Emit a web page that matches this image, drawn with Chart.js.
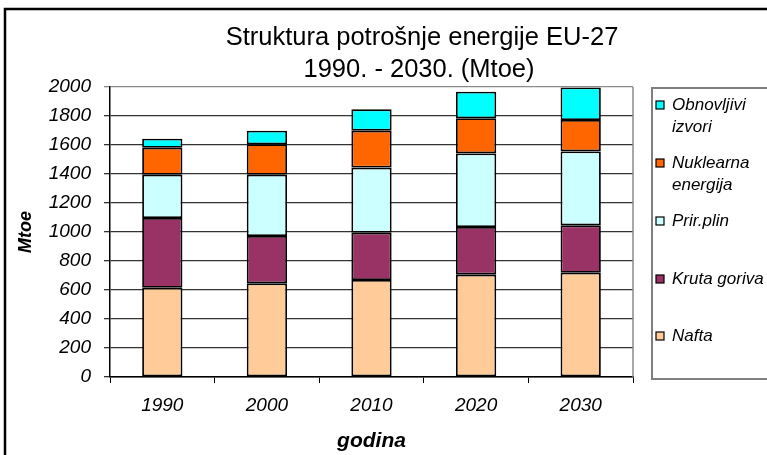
<!DOCTYPE html>
<html>
<head>
<meta charset="utf-8">
<script src="https://cdn.jsdelivr.net/npm/chart.js@4/dist/chart.umd.min.js"></script>
<style>
  html, body { margin: 0; padding: 0; background: #fff; }
  #wrap { width: 767px; height: 455px; }
</style>
</head>
<body>
<div id="wrap"><canvas id="c" width="767" height="455"></canvas></div>
<script>
// ---- data ----
const categories = ['1990', '2000', '2010', '2020', '2030'];
const nafta       = [616, 646, 669, 706, 719];
const krutaGoriva = [481, 326, 326, 328, 327];
const prirPlin    = [298, 423, 449, 508, 510];
const nuklearna   = [186, 210, 255, 242, 216];
const obnovljivi  = [62, 94, 147, 184, 225];
const yTicks      = [0, 200, 400, 600, 800, 1000, 1200, 1400, 1600, 1800, 2000];
const titleLines  = ['Struktura potrošnje energije EU-27', '1990. - 2030. (Mtoe)'];
const legendLines = [['Nafta'], ['Kruta goriva'], ['Prir.plin'], ['Nuklearna', 'energija'], ['Obnovljivi', 'izvori']];
const colors      = ['#FFCC99', '#993366', '#CCFFFF', '#FF6600', '#00FFFF'];
const seriesValues = [nafta, krutaGoriva, prirPlin, nuklearna, obnovljivi];

const FONT = 'Arial, "Liberation Sans", sans-serif';

const datasets = seriesValues.map((vals, i) => ({
  label: legendLines[i].join(' '),
  data: vals,
  backgroundColor: colors[i],
  borderColor: '#000',
  borderWidth: 1.8,
  borderSkipped: false,
  categoryPercentage: 1,
  barPercentage: 0.385
}));

const decor = {
  id: 'decor',
  beforeDraw(chart) {
    const ctx = chart.ctx;
    ctx.save();
    ctx.fillStyle = '#fff';
    ctx.fillRect(0, 0, chart.width, chart.height);
    ctx.restore();
  },
  afterDraw(chart) {
    const ctx = chart.ctx;
    const a = chart.chartArea;
    ctx.save();
    // plot area right border
    ctx.strokeStyle = '#8a8a8a';
    ctx.lineWidth = 1.5;
    ctx.beginPath();
    ctx.moveTo(a.right, a.top);
    ctx.lineTo(a.right, a.bottom);
    ctx.stroke();
    // outer frame
    ctx.strokeStyle = '#000';
    ctx.lineWidth = 2.5;
    ctx.strokeRect(5, 9, 900, 600);
    // title
    ctx.fillStyle = '#000';
    ctx.font = '25.5px ' + FONT;
    ctx.textAlign = 'center';
    ctx.textBaseline = 'middle';
    ctx.fillText(titleLines[0], 422, 38);
    ctx.fillText(titleLines[1], 419, 70);
    // legend box
    ctx.strokeStyle = '#7f7f7f';
    ctx.lineWidth = 2;
    ctx.strokeRect(652, 88, 130, 291);
    const ys = [336, 279, 221, 163, 105];
    ctx.font = 'italic 17px ' + FONT;
    ctx.textAlign = 'left';
    for (let i = chart.data.datasets.length - 1; i >= 0; i--) {
      const ds = chart.data.datasets[i];
      const y = ys[i];
      ctx.fillStyle = ds.backgroundColor;
      ctx.fillRect(656, y - 4, 8, 8);
      ctx.strokeStyle = '#000';
      ctx.lineWidth = 1.2;
      ctx.strokeRect(656, y - 4, 8, 8);
      ctx.fillStyle = '#000';
      legendLines[i].forEach((t, k) => ctx.fillText(t, 672, y + k * 22));
    }
    ctx.restore();
  }
};

new Chart(document.getElementById('c'), {
  type: 'bar',
  data: { labels: categories, datasets },
  options: {
    responsive: false,
    animation: false,
    devicePixelRatio: 1,
    layout: { padding: { top: 87, right: 134, left: 0, bottom: 0 } },
    plugins: { legend: { display: false }, title: { display: false }, tooltip: { enabled: false } },
    scales: {
      x: {
        stacked: true,
        afterFit(s) { s.height = 78; },
        grid: { display: true, drawOnChartArea: false, drawTicks: true, tickLength: 6, color: '#000', offset: true },
        border: { display: true, color: '#000', width: 1.5 },
        ticks: { color: '#000', padding: 11, font: { family: FONT, size: 19, style: 'italic' } },
        title: { display: true, text: 'godina', color: '#000', padding: { top: 0, bottom: 1 },
                 font: { family: FONT, size: 21, style: 'italic', weight: 'bold' } }
      },
      y: {
        stacked: true,
        min: 0, max: 2000,
        afterFit(s) { s.width = 110; },
        afterBuildTicks(s) { s.ticks = yTicks.map(v => ({ value: v })); },
        grid: {
          drawTicks: true, tickLength: 6,
          color: (c) => (c.tick && c.tick.value === 2000) ? '#8a8a8a' : '#333',
          lineWidth: 1.3
        },
        border: { display: true, color: '#000', width: 1.5 },
        ticks: { color: '#000', padding: 13, font: { family: FONT, size: 19, style: 'italic' },
                 callback: (v) => String(v) },
        title: { display: true, text: 'Mtoe', color: '#000', padding: { top: 15, bottom: 0 },
                 font: { family: FONT, size: 18, style: 'italic', weight: 'bold' } }
      }
    }
  },
  plugins: [decor]
});
</script>
</body>
</html>
